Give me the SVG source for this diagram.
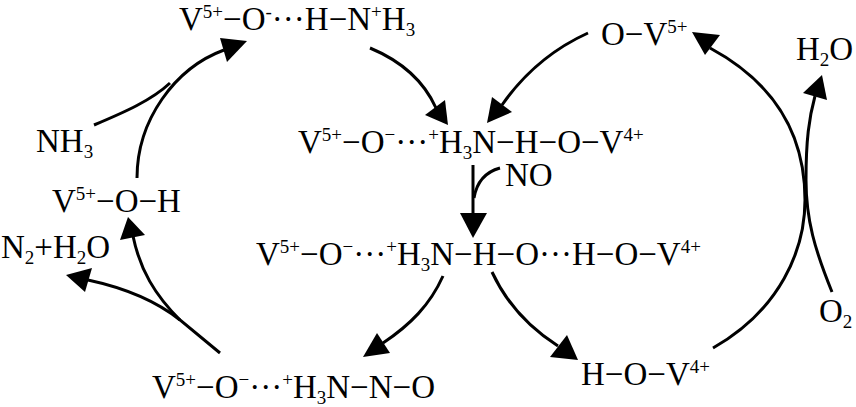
<svg xmlns="http://www.w3.org/2000/svg" width="856" height="407" viewBox="0 0 856 407">
<style>
text{font-family:"Liberation Serif","Times New Roman",serif;font-size:33px;fill:#000}
.s{font-size:19px}
.ln{fill:none;stroke:#000;stroke-width:3}
.hd{fill:#000;stroke:none}
</style>
<rect width="856" height="407" fill="#fff"/>
<g id="connectors">
<path class="ln" d="M137,178 C137,120 175,68 224,50"/>
<path class="ln" d="M94,125 C125,112 152,100 170,83"/>
<polygon class="hd" points="247,41 220,38 227,62"/>
<path class="ln" d="M370,48 Q418,68 436,108"/>
<polygon class="hd" points="448,125 425,115 445,100"/>
<path class="ln" d="M588,33 C555,48 525,72 502,105"/>
<polygon class="hd" points="487,123 492,97 512,112"/>
<path class="ln" d="M473,165 L473,214"/>
<path class="ln" d="M500,168 Q478,174 474,198"/>
<polygon class="hd" points="473,238 460,213 487,213"/>
<path class="ln" d="M492,272 C505,300 525,325 558,346"/>
<polygon class="hd" points="578,360 550,357 567,335"/>
<path class="ln" d="M443,276 C430,305 410,325 383,343"/>
<polygon class="hd" points="363,357 377,333 390,353"/>
<path class="ln" d="M220,353 L180,320 C155,295 140,270 133,236"/>
<path class="ln" d="M180,320 C155,300 125,288 88,280"/>
<polygon class="hd" points="128,217 120,240 145,235"/>
<polygon class="hd" points="66,275 92,268 85,292"/>
<path class="ln" d="M713,348 C780,310 805,250 805,200 C805,120 760,75 710,48"/>
<polygon class="hd" points="692,32 720,35 705,55"/>
<path class="ln" d="M832,292 C815,250 806,220 806,180 C806,140 809,118 815,96"/>
<polygon class="hd" points="822,75 803,93 827,100"/>
</g>
<g id="n1"><text x="179" y="30">V<tspan class="s" dy="-12">5+</tspan><tspan dy="12">−O</tspan><tspan class="s" dy="-12">-</tspan><tspan dy="12">···H−N</tspan><tspan class="s" dy="-12">+</tspan><tspan dy="12">H</tspan><tspan class="s" dy="6">3</tspan></text></g>
<g id="n2"><text x="36" y="152">NH<tspan class="s" dy="6">3</tspan></text></g>
<g id="n3"><text x="52" y="212">V<tspan class="s" dy="-12">5+</tspan><tspan dy="12">−O−H</tspan></text></g>
<g id="n4"><text x="1" y="258">N<tspan class="s" dy="6">2</tspan><tspan dy="-6">+H</tspan><tspan class="s" dy="6">2</tspan><tspan dy="-6">O</tspan></text></g>
<g id="n5"><text x="298" y="153">V<tspan class="s" dy="-12">5+</tspan><tspan dy="12">−O</tspan><tspan class="s" dy="-12">−</tspan><tspan dy="12">···</tspan><tspan class="s" dy="-12">+</tspan><tspan dy="12">H</tspan><tspan class="s" dy="6">3</tspan><tspan dy="-6">N−H−O−V</tspan><tspan class="s" dy="-12">4+</tspan></text></g>
<g id="n6"><text x="505" y="186">NO</text></g>
<g id="n7"><text x="256" y="265">V<tspan class="s" dy="-12">5+</tspan><tspan dy="12">−O</tspan><tspan class="s" dy="-12">−</tspan><tspan dy="12">···</tspan><tspan class="s" dy="-12">+</tspan><tspan dy="12">H</tspan><tspan class="s" dy="6">3</tspan><tspan dy="-6">N−H−O···H−O−V</tspan><tspan class="s" dy="-12">4+</tspan></text></g>
<g id="n8"><text x="152" y="398">V<tspan class="s" dy="-12">5+</tspan><tspan dy="12">−O</tspan><tspan class="s" dy="-12">−</tspan><tspan dy="12">···</tspan><tspan class="s" dy="-12">+</tspan><tspan dy="12">H</tspan><tspan class="s" dy="6">3</tspan><tspan dy="-6">N−N−O</tspan></text></g>
<g id="n9"><text x="581" y="385">H−O−V<tspan class="s" dy="-12">4+</tspan></text></g>
<g id="n10"><text x="601" y="45">O−V<tspan class="s" dy="-12">5+</tspan></text></g>
<g id="n11"><text x="796" y="60">H<tspan class="s" dy="6">2</tspan><tspan dy="-6">O</tspan></text></g>
<g id="n12"><text x="819" y="322">O<tspan class="s" dy="6">2</tspan></text></g>
</svg>
